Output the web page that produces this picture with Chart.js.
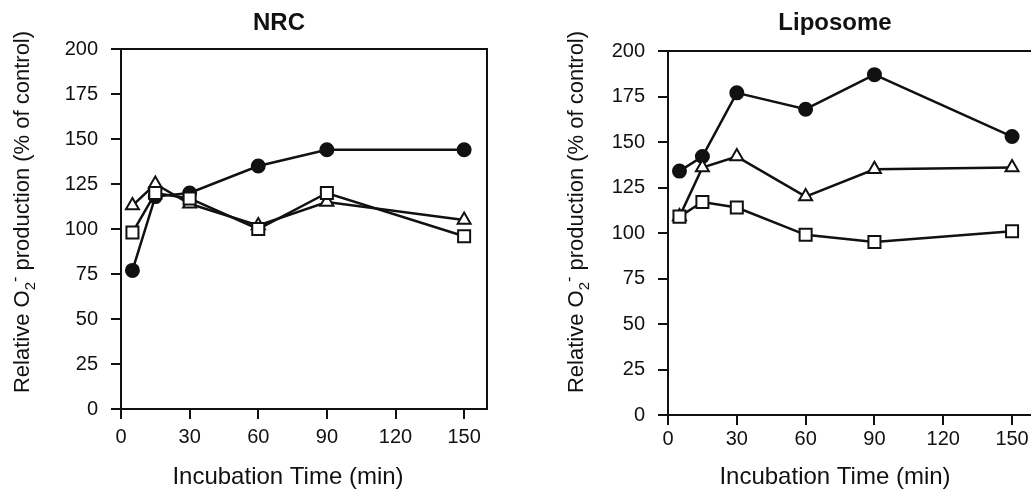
<!DOCTYPE html>
<html>
<head>
<meta charset="utf-8">
<script src="https://cdn.jsdelivr.net/npm/chart.js@4"></script>
<style>
  html, body { margin: 0; padding: 0; background: #fff; overflow: hidden; width: 1031px; height: 494px; }
  canvas { position: absolute; top: 0; }
  #nrc { left: 0; }
  #lipo { left: 520px; }
</style>
</head>
<body>
<canvas id="nrc" width="520" height="494"></canvas>
<canvas id="lipo" width="530" height="494"></canvas>
<script>
const timeMin = [5, 15, 30, 60, 90, 150];

const nrcCircle = [77, 118, 120, 135, 144, 144];
const nrcTriangle = [113, 125, 114, 102, 115, 105];
const nrcSquare = [98, 120, 117, 100, 120, 96];

const lipoCircle = [134, 142, 177, 168, 187, 153];
const lipoTriangle = [109, 136, 142, 120, 135, 136];
const lipoSquare = [109, 117, 114, 99, 95, 101];

const xTicks = [0, 30, 60, 90, 120, 150];
const yTicks = [0, 25, 50, 75, 100, 125, 150, 175, 200];

const FONT = "'Liberation Sans', Arial, Helvetica, sans-serif";
const INK = '#111';

function toPoints(ys) {
  return timeMin.map((x, i) => ({ x, y: ys[i] }));
}

function series(ys, style, fill, radius) {
  return {
    data: toPoints(ys),
    showLine: true,
    borderColor: INK,
    borderWidth: 2.5,
    pointStyle: style,
    pointRadius: radius,
    pointBackgroundColor: fill,
    pointBorderColor: INK,
    pointBorderWidth: 2,
    clip: 10
  };
}

// title, axis titles and the frame box
function decor(o) {
  return {
    id: 'decor',
    afterDraw(chart) {
      const ctx = chart.ctx;
      const a = chart.chartArea;
      ctx.save();
      ctx.strokeStyle = INK;
      ctx.lineWidth = 2;
      ctx.strokeRect(a.left, a.top, a.right - a.left, a.bottom - a.top);

      ctx.fillStyle = INK;
      ctx.textAlign = 'center';
      ctx.textBaseline = 'alphabetic';
      ctx.font = 'bold 24px ' + FONT;
      ctx.fillText(o.title, o.titleX, 30);

      ctx.font = '24px ' + FONT;
      ctx.fillText('Incubation Time (min)', o.xTitleX, 484);

      // rotated y title with O2- sub/superscript
      const parts = [
        { t: 'Relative O', f: 22, dy: 0 },
        { t: '2', f: 15, dy: 6 },
        { t: '-', f: 16, dy: -9 },
        { t: ' production (% of control)', f: 22, dy: 0 }
      ];
      let total = 0;
      parts.forEach(p => {
        ctx.font = p.f + 'px ' + FONT;
        p.w = ctx.measureText(p.t).width;
        total += p.w;
      });
      ctx.translate(o.yTitleX, 212);
      ctx.rotate(-Math.PI / 2);
      ctx.textAlign = 'left';
      let x = -total / 2;
      parts.forEach(p => {
        ctx.font = p.f + 'px ' + FONT;
        ctx.fillText(p.t, x, p.dy);
        x += p.w;
      });
      ctx.restore();
    }
  };
}

function makeChart(id, circle, triangle, square, o) {
  const canvas = document.getElementById(id);
  return new Chart(canvas, {
    type: 'scatter',
    data: {
      datasets: [
        series(square, 'rect', '#fff', 8.5),
        series(triangle, 'triangle', '#fff', 7.5),
        series(circle, 'circle', INK, 6.5)
      ]
    },
    options: {
      responsive: false,
      animation: false,
      layout: { padding: { left: 0, top: o.top, right: o.right, bottom: 0 } },
      plugins: { legend: { display: false }, tooltip: { enabled: false } },
      scales: {
        x: {
          type: 'linear',
          min: 0,
          max: 160,
          afterBuildTicks(s) { s.ticks = xTicks.map(v => ({ value: v })); },
          afterFit(s) { s.height = 494 - o.bottom; },
          border: { display: false },
          grid: { drawOnChartArea: false, drawTicks: true, tickLength: 10, color: INK, lineWidth: 2 },
          ticks: { color: INK, font: { family: FONT, size: 20 }, padding: o.xPad, maxRotation: 0 }
        },
        y: {
          min: 0,
          max: 200,
          afterBuildTicks(s) { s.ticks = yTicks.map(v => ({ value: v })); },
          afterFit(s) { s.width = o.axisLeft; },
          border: { display: false },
          grid: { drawOnChartArea: false, drawTicks: true, tickLength: 10, color: INK, lineWidth: 2 },
          ticks: { color: INK, font: { family: FONT, size: 20 }, padding: 13 }
        }
      }
    },
    plugins: [decor(o)]
  });
}

makeChart('nrc', nrcCircle, nrcTriangle, nrcSquare, {
  title: 'NRC', titleX: 279, xTitleX: 288, yTitleX: 29,
  top: 49, bottom: 409, right: 33, axisLeft: 121, xPad: 6
});

makeChart('lipo', lipoCircle, lipoTriangle, lipoSquare, {
  title: 'Liposome', titleX: 315, xTitleX: 315, yTitleX: 63,
  top: 51, bottom: 415, right: 15, axisLeft: 148, xPad: 2
});
</script>
</body>
</html>
